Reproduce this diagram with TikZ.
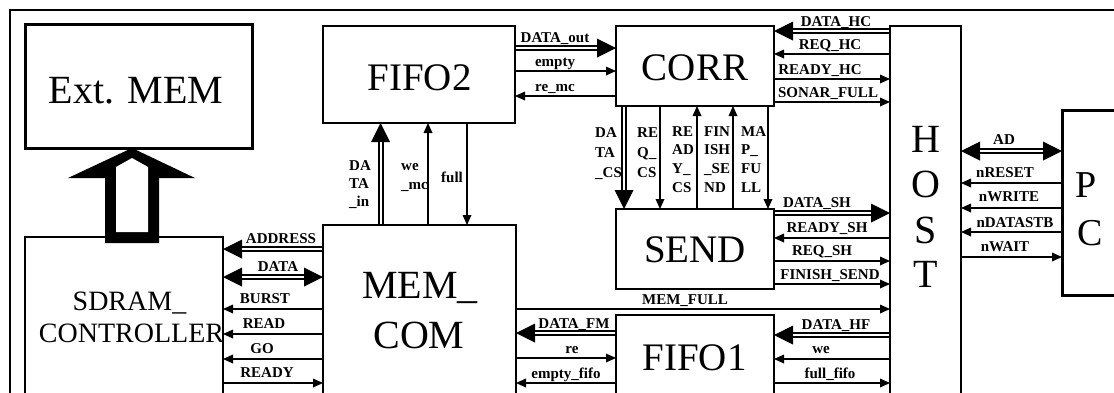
\documentclass[tikz,border=0pt]{standalone}
\usepackage{fontspec}
\setmainfont{Liberation Serif}
\usetikzlibrary{arrows.meta}
\newcommand\lblf{\fontsize{15}{18}\selectfont\bfseries}
\newcommand\bigf{\fontsize{39}{44}\selectfont}
\begin{document}
\begin{tikzpicture}[x=1pt,y=-1pt,line join=miter,
  bigtip/.tip={Triangle[length=19pt,width=19pt,line width=0pt]},
  smalltip/.tip={Triangle[length=10pt,width=9pt,line width=0pt]},
  sig/.style={line width=1.6pt,-smalltip},
  bus/.style={line width=6pt,-bigtip,postaction={draw=white,line width=2pt,-,shorten >=19pt}},
  bustwo/.style={line width=6pt,bigtip-bigtip,postaction={draw=white,line width=2pt,-,shorten >=19pt,shorten <=19pt}},
  box/.style={draw,inner sep=0,outer sep=0,anchor=north west},
  lbl/.style={font=\lblf,inner sep=0,anchor=base},
  vlbl/.style={inner sep=0,anchor=north west,align=left},
  bigt/.style={font=\bigf,inner sep=0,anchor=base}]
\useasboundingbox (0,0) rectangle (1114,392);
\clip (0,0) rectangle (1114,392);
\fill[white] (0,0) rectangle (1114,392);

% boxes (as named nodes)
\node[box,line width=3pt,minimum width=227pt,minimum height=124pt] (extmem) at (25,24) {};
\node[box,line width=1.5pt,minimum width=192pt,minimum height=97pt] (fifo2) at (323,26) {};
\node[box,line width=2.5pt,minimum width=158pt,minimum height=80pt] (corr) at (616,26) {};
\node[box,line width=1.5pt,minimum width=71pt,minimum height=420pt] (host) at (890,26) {};
\node[box,line width=3pt,minimum width=200pt,minimum height=185pt] (pc) at (1062,110) {};
\node[box,line width=2.5pt,minimum width=158pt,minimum height=80pt] (send) at (616,209) {};
\node[box,line width=2.5pt,minimum width=158pt,minimum height=120pt] (fifo1) at (616,315) {};
\node[box,line width=2.5pt,minimum width=193pt,minimum height=220pt] (memcom) at (323,225) {};
\node[box,line width=1.5pt,minimum width=198pt,minimum height=220pt] (sdram) at (25,237) {};

% outer frame
\draw[line width=2.5pt] (10,430) -- (10,10) -- (1140,10);

% FIFO2 - CORR
\draw[bus] (fifo2.east |- 0,48) -- (corr.west |- 0,48);
\draw[sig] (fifo2.east |- 0,71) -- (corr.west |- 0,71);
\draw[sig] (corr.west |- 0,96) -- (fifo2.east |- 0,96);
% CORR - HOST
\draw[bus] (host.west |- 0,31) -- (corr.east |- 0,31);
\draw[sig] (host.west |- 0,54) -- (corr.east |- 0,54);
\draw[sig] (corr.east |- 0,79) -- (host.west |- 0,79);
\draw[sig] (corr.east |- 0,102) -- (host.west |- 0,102);
% SEND - HOST
\draw[bus] (send.east |- 0,213) -- (host.west |- 0,213);
\draw[sig] (host.west |- 0,238) -- (send.east |- 0,238);
\draw[sig] (send.east |- 0,261) -- (host.west |- 0,261);
\draw[sig] (send.east |- 0,284) -- (host.west |- 0,284);
% MEM_FULL
\draw[sig] (memcom.east |- 0,309) -- (host.west |- 0,309);
% HOST - FIFO1
\draw[bus] (host.west |- 0,335) -- (fifo1.east |- 0,335);
\draw[sig] (host.west |- 0,359) -- (fifo1.east |- 0,359);
\draw[sig] (fifo1.east |- 0,383) -- (host.west |- 0,383);
% FIFO1 - MEM_COM
\draw[bus] (fifo1.west |- 0,333) -- (memcom.east |- 0,333);
\draw[sig] (memcom.east |- 0,358) -- (fifo1.west |- 0,358);
\draw[sig] (fifo1.west |- 0,383) -- (memcom.east |- 0,383);
% MEM_COM - SDRAM
\draw[bus] (memcom.west |- 0,249) -- (sdram.east |- 0,249);
\draw[bustwo] (memcom.west |- 0,277) -- (sdram.east |- 0,277);
\draw[sig] (memcom.west |- 0,309) -- (sdram.east |- 0,309);
\draw[sig] (memcom.west |- 0,334) -- (sdram.east |- 0,334);
\draw[sig] (memcom.west |- 0,359) -- (sdram.east |- 0,359);
\draw[sig] (sdram.east |- 0,383) -- (memcom.west |- 0,383);
% HOST - PC
\draw[bustwo] (host.east |- 0,151) -- (pc.west |- 0,151);
\draw[sig] (pc.west |- 0,183) -- (host.east |- 0,183);
\draw[sig] (pc.west |- 0,208) -- (host.east |- 0,208);
\draw[sig] (pc.west |- 0,232) -- (host.east |- 0,232);
\draw[sig] (host.east |- 0,257) -- (pc.west |- 0,257);
% MEM_COM - FIFO2
\draw[bus] (380.5,0 |- memcom.north) -- (380.5,0 |- fifo2.south);
\draw[sig] (428,0 |- memcom.north) -- (428,0 |- fifo2.south);
\draw[sig] (467,0 |- fifo2.south) -- (467,0 |- memcom.north);
% CORR - SEND
\draw[bus] (624,0 |- corr.south) -- (624,0 |- send.north);
\draw[sig] (660,0 |- corr.south) -- (660,0 |- send.north);
\draw[sig] (697,0 |- send.north) -- (697,0 |- corr.south);
\draw[sig] (733,0 |- send.north) -- (733,0 |- corr.south);
\draw[sig] (768,0 |- corr.south) -- (768,0 |- send.north);

% redraw box borders on top of connector ends
\draw[line width=3pt] (extmem.north west) rectangle (extmem.south east);
\draw[line width=1.5pt] (fifo2.north west) rectangle (fifo2.south east);
\draw[line width=2.5pt] (corr.north west) rectangle (corr.south east);
\draw[line width=1.5pt] (host.north west) rectangle (host.south east);
\draw[line width=3pt] (pc.north west) rectangle (pc.south east);
\draw[line width=2.5pt] (send.north west) rectangle (send.south east);
\draw[line width=2.5pt] (fifo1.north west) rectangle (fifo1.south east);
\draw[line width=2.5pt] (memcom.north west) rectangle (memcom.south east);
\draw[line width=1.5pt] (sdram.north west) rectangle (sdram.south east);

% hollow arrow SDRAM -> Ext. MEM
\fill[black] (132,148) -- (195,178) -- (159,178) -- (159,243) -- (105,243) -- (105,178) -- (68,178) -- cycle;
\fill[white] (132,158) -- (148,167) -- (148,232) -- (116,232) -- (116,167) -- cycle;

% big texts
\node[bigt,font=\fontsize{40}{44}\selectfont] (textmem) at (136,103) {Ext. MEM};
\node[bigt] (tfifo2) at (419.5,90) {FIFO2};
\node[bigt] (tcorr) at (695,80) {CORR};
\node[bigt] (tsend) at (695,262) {SEND};
\node[bigt] (tfifo1) at (694.5,370) {FIFO1};
\node[bigt,font=\fontsize{40}{44}\selectfont] (tmem) at (420,298) {MEM\_};
\node[bigt,font=\fontsize{40}{44}\selectfont] (tcom) at (419,348) {COM};
\node[bigt,font=\fontsize{28}{32}\selectfont] (tsdram) at (129.5,310) {SDRAM\_};
\node[bigt,font=\fontsize{28}{32}\selectfont] (tctrl) at (131.5,342) {CONTROLLER};
\node[bigt,font=\fontsize{40}{44}\selectfont] (th) at (926,152) {H};
\node[bigt,font=\fontsize{40}{44}\selectfont] (to) at (926,197) {O};
\node[bigt,font=\fontsize{40}{44}\selectfont] (ts) at (926,243) {S};
\node[bigt,font=\fontsize{40}{44}\selectfont] (tt) at (926,287) {T};
\node[bigt,font=\fontsize{38}{44}\selectfont] (tp) at (1086,197) {P};
\node[bigt,font=\fontsize{38}{44}\selectfont] (tc) at (1090,245) {C};

% signal labels
\node[lbl] (l1) at (555,42) {DATA\_out};
\node[lbl] (l2) at (555,66) {empty};
\node[lbl] (l3) at (555,91) {re\_mc};
\node[lbl] (l4) at (836,26) {DATA\_HC};
\node[lbl] (l5) at (830,49) {REQ\_HC};
\node[lbl] (l6) at (820,74) {READY\_HC};
\node[lbl] (l7) at (828,97) {SONAR\_FULL};
\node[lbl] (l8) at (817,207) {DATA\_SH};
\node[lbl] (l9) at (827,232) {READY\_SH};
\node[lbl] (l10) at (822,255) {REQ\_SH};
\node[lbl] (l11) at (830,279) {FINISH\_SEND};
\node[lbl] (l12) at (685,304) {MEM\_FULL};
\node[lbl] (l13) at (836,329) {DATA\_HF};
\node[lbl] (l14) at (821,353) {we};
\node[lbl] (l15) at (830,378) {full\_fifo};
\node[lbl] (l16) at (574,328) {DATA\_FM};
\node[lbl] (l17) at (572,353) {re};
\node[lbl] (l18) at (566,378) {empty\_fifo};
\node[lbl] (l19) at (281,243) {ADDRESS};
\node[lbl] (l20) at (278,271) {DATA};
\node[lbl] (l21) at (265,303) {BURST};
\node[lbl] (l22) at (264,328) {READ};
\node[lbl] (l23) at (262,353) {GO};
\node[lbl] (l24) at (267,377) {READY};
\node[lbl] (l25) at (1004,144) {AD};
\node[lbl] (l26) at (1005,177) {nRESET};
\node[lbl] (l27) at (1009,201) {nWRITE};
\node[lbl] (l28) at (1015,227) {nDATASTB};
\node[lbl] (l29) at (1005,251) {nWAIT};
\node[lbl,anchor=base west] (l30) at (441,182) {full};

% vertical labels
\node[vlbl,font=\fontsize{15}{18}\selectfont\bfseries] (v1) at (349,157.4) {\strut DA\\TA\\\_in};
\node[vlbl,font=\fontsize{15}{19}\selectfont\bfseries] (v2) at (401,156.7) {\strut we\\\_mc};
\node[vlbl,font=\fontsize{15}{20}\selectfont\bfseries] (v3) at (595,123) {\strut DA\\TA\\\_CS};
\node[vlbl,font=\fontsize{15}{20}\selectfont\bfseries] (v4) at (637,123) {\strut RE\\Q\_\\CS};
\node[vlbl,font=\fontsize{15}{18.8}\selectfont\bfseries] (v5) at (672,122.8) {\strut RE\\AD\\Y\_\\CS};
\node[vlbl,font=\fontsize{15}{18.8}\selectfont\bfseries] (v6) at (704,122.8) {\strut FIN\\ISH\\\_SE\\ND};
\node[vlbl,font=\fontsize{15}{18.8}\selectfont\bfseries] (v7) at (741,122.8) {\strut MA\\P\_\\FU\\LL};
\end{tikzpicture}
\end{document}
